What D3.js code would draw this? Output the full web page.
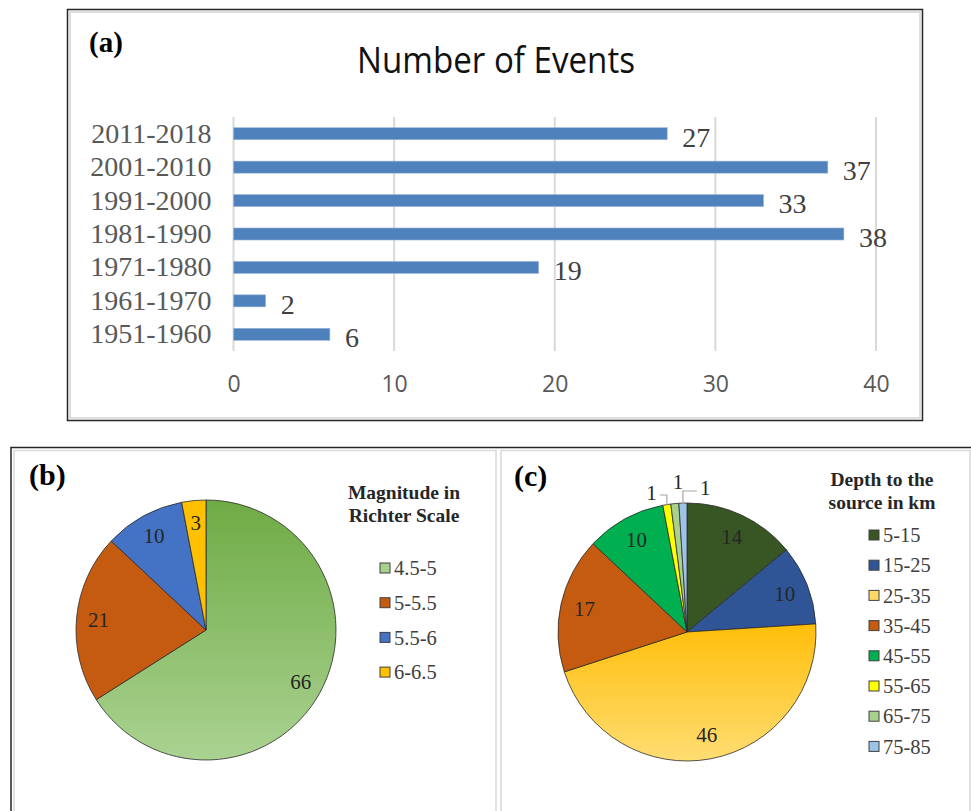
<!DOCTYPE html>
<html>
<head>
<meta charset="utf-8">
<script src="https://cdn.jsdelivr.net/npm/d3@7"></script>
<style>
  body { margin: 0; background: #fff; }
  svg { display: block; }
</style>
</head>
<body>
<div id="chart"></div>
<script>
// (a) number of events per decade
var decades = ["1951-1960", "1961-1970", "1971-1980", "1981-1990", "1991-2000", "2001-2010", "2011-2018"];
var events = [6, 2, 19, 38, 33, 37, 27];
var xTicks = [0, 10, 20, 30, 40];

// (b) magnitude
var magClasses = ["4.5-5", "5-5.5", "5.5-6", "6-6.5"];
var magCounts = [66, 21, 10, 3];

// (c) depth
var depthClasses = ["5-15", "15-25", "25-35", "35-45", "45-55", "55-65", "65-75", "75-85"];
var depthCounts = [14, 10, 46, 17, 10, 1, 1, 1];

var magColors = ["url(#gGreen)", "#C55A11", "#4472C4", "#FFC000"];
var magKeyColors = ["#A9D18E", "#C55A11", "#4472C4", "#FFC000"];
var depthColors = ["#375623", "#2F5597", "url(#gGold)", "#C55A11", "#00B050", "#FFFF00", "#A9D18E", "#9DC3E6"];
var depthKeyColors = ["#375623", "#2F5597", "#FFD966", "#C55A11", "#00B050", "#FFFF00", "#A9D18E", "#9DC3E6"];

var serif = "'Liberation Serif', 'Times New Roman', serif";

var svg = d3.select("#chart").append("svg")
    .attr("width", 971)
    .attr("height", 811);

var defs = svg.append("defs");
function grad(id, top, bottom) {
    var g = defs.append("linearGradient").attr("id", id)
        .attr("x1", 0).attr("y1", 0).attr("x2", 0).attr("y2", 1);
    g.append("stop").attr("offset", "0%").attr("stop-color", top);
    g.append("stop").attr("offset", "100%").attr("stop-color", bottom);
}
grad("gGreen", "#6EAB45", "#AAD291");
grad("gGold", "#FFBE0A", "#FFDD72");

// ---------- frames ----------
svg.append("rect").attr("x", 67.5).attr("y", 9.5).attr("width", 855).attr("height", 411)
    .attr("fill", "#fff").attr("stroke", "#262626").attr("stroke-width", 1.5);
svg.append("rect").attr("x", 70).attr("y", 12).attr("width", 850).attr("height", 406)
    .attr("fill", "none").attr("stroke", "#d4d4d4").attr("stroke-width", 1.5);

svg.append("rect").attr("x", 11).attr("y", 447.5).attr("width", 975).attr("height", 400)
    .attr("fill", "#fff").attr("stroke", "#262626").attr("stroke-width", 1.5);
svg.append("rect").attr("x", 14).attr("y", 450.5).attr("width", 482).attr("height", 390)
    .attr("fill", "none").attr("stroke", "#d9d9d9").attr("stroke-width", 1.5);
svg.append("rect").attr("x", 501).attr("y", 450.5).attr("width", 469).attr("height", 390)
    .attr("fill", "none").attr("stroke", "#d9d9d9").attr("stroke-width", 1.5);

// ---------- (a) bar chart ----------
var a = svg.append("g").attr("class", "g_bars");

a.append("text").text("(a)")
    .attr("x", 89).attr("y", 52)
    .style("font-family", serif).style("font-weight", "bold").style("font-size", "29px");

a.append("text").text("Number of Events")
    .attr("x", 496).attr("y", 73)
    .attr("text-anchor", "middle")
    .attr("textLength", 278).attr("lengthAdjust", "spacingAndGlyphs")
    .style("font-family", "'Open Sans', sans-serif").style("font-size", "37px").style("fill", "#111");

var x = d3.scaleLinear().domain([0, 40]).range([233.5, 876]);
var y = d3.scaleBand().domain(decades.slice().reverse()).range([117, 351])
    .paddingInner(0.64).paddingOuter(0.32);

a.selectAll("line.grid").data(xTicks).enter().append("line")
    .attr("class", "grid")
    .attr("x1", function (d) { return x(d); })
    .attr("x2", function (d) { return x(d); })
    .attr("y1", 117).attr("y2", 351)
    .attr("stroke", "#d9d9d9").attr("stroke-width", 2);

var xAxis = a.append("g").attr("transform", "translate(0,351)")
    .call(d3.axisBottom(x).tickValues(xTicks).tickSize(0).tickPadding(25));
xAxis.select(".domain").remove();
xAxis.selectAll("text")
    .style("font-family", "'Open Sans', sans-serif").style("font-size", "23px").style("fill", "#595959");

var yAxis = a.append("g").attr("transform", "translate(233.5,0)")
    .call(d3.axisLeft(y).tickSize(0).tickPadding(22));
yAxis.select(".domain").remove();
yAxis.selectAll("text")
    .style("font-family", serif).style("font-size", "28px").style("fill", "#595959");

var rows = decades.map(function (d, i) { return {decade: d, value: events[i]}; });

a.selectAll("rect.bar").data(rows).enter().append("rect")
    .attr("class", "bar")
    .attr("x", x(0))
    .attr("y", function (d) { return y(d.decade); })
    .attr("width", function (d) { return x(d.value) - x(0); })
    .attr("height", y.bandwidth())
    .attr("fill", "#4F81BD")
    .attr("stroke", "#9bb7dc").attr("stroke-width", 0.6);

a.selectAll("text.val").data(rows).enter().append("text")
    .attr("class", "val")
    .text(function (d) { return d.value; })
    .attr("x", function (d) { return x(d.value) + 15; })
    .attr("y", function (d) { return y(d.decade) + y.bandwidth() / 2 + 3; })
    .attr("dy", "0.35em")
    .style("font-family", serif).style("font-size", "28px").style("fill", "#404040");

// ---------- pie helper ----------
function drawPie(g, cx, cy, r, values, colors, labelR) {
    var pie = d3.pie().sort(null).value(function (d) { return d; });
    var arcs = pie(values);
    var arc = d3.arc().innerRadius(0).outerRadius(r);
    var labelArc = d3.arc().innerRadius(labelR).outerRadius(labelR);
    var pg = g.append("g").attr("transform", "translate(" + cx + "," + cy + ")");
    pg.selectAll("path").data(arcs).enter().append("path")
        .attr("d", arc)
        .attr("fill", function (d, i) { return colors[i]; })
        .attr("stroke", "#2b2b2b").attr("stroke-width", 0.8)
        .attr("stroke-linejoin", "round");
    pg.selectAll("text").data(arcs.filter(function (d) { return d.value > 1; })).enter().append("text")
        .text(function (d) { return d.value; })
        .attr("transform", function (d) { return "translate(" + labelArc.centroid(d) + ")"; })
        .attr("text-anchor", "middle").attr("dy", "0.35em")
        .style("font-family", serif).style("font-size", "21px").style("fill", "#262626");
    return {group: pg, arcs: arcs};
}

function drawLegend(g, x0, titleX, titleY, titleLines, classes, colors, firstY, step) {
    g.selectAll("text.ltitle").data(titleLines).enter().append("text")
        .attr("class", "ltitle")
        .text(function (d) { return d; })
        .attr("x", titleX).attr("y", function (d, i) { return titleY + i * 23; })
        .attr("text-anchor", "middle")
        .style("font-family", serif).style("font-weight", "bold").style("font-size", "19.5px").style("fill", "#262626");
    var item = g.selectAll("g.item").data(classes).enter().append("g")
        .attr("class", "item")
        .attr("transform", function (d, i) { return "translate(" + x0 + "," + (firstY + i * step) + ")"; });
    item.append("rect")
        .attr("x", 0).attr("y", -5).attr("width", 10).attr("height", 10)
        .attr("fill", function (d, i) { return colors[i]; })
        .attr("stroke", "#404040").attr("stroke-width", 1);
    item.append("text").text(function (d) { return d; })
        .attr("x", 14).attr("dy", "0.35em")
        .style("font-family", serif).style("font-size", "20.5px").style("fill", "#404040");
}

// ---------- (b) ----------
var b = svg.append("g").attr("class", "g_mag");
b.append("text").text("(b)")
    .attr("x", 29).attr("y", 485)
    .style("font-family", serif).style("font-weight", "bold").style("font-size", "30px");
drawPie(b, 206, 630, 130, magCounts, magColors, 108);
drawLegend(b, 380, 404, 499, ["Magnitude in", "Richter Scale"], magClasses, magKeyColors, 568, 34.7);

// ---------- (c) ----------
var c = svg.append("g").attr("class", "g_depth");
c.append("text").text("(c)")
    .attr("x", 514).attr("y", 486)
    .style("font-family", serif).style("font-weight", "bold").style("font-size", "30px");
var pc = drawPie(c, 687, 632, 129, depthCounts, depthColors, 105);
drawLegend(c, 869, 882, 486, ["Depth to the", "source in km"], depthClasses, depthKeyColors, 535, 30.2);

// small slices: labels outside with leader lines
var small = pc.arcs.filter(function (d) { return d.value <= 1; });
var r = 129;
small.forEach(function (d, k) {
    var ang = (d.startAngle + d.endAngle) / 2;
    var ex = r * Math.sin(ang), ey = -r * Math.cos(ang);
    var lx, ly, pts;
    if (k === 0) {
        pts = [[ex, ey + 1], [ex, -r - 8], [ex - 7, -r - 8]];
        lx = ex - 10; ly = -r - 10;
    } else if (k === 1) {
        pts = null;
        lx = ex + 3; ly = -r - 21;
    } else {
        pts = [[ex, ey + 1], [ex, -r - 12], [ex + 14, -r - 12]];
        lx = ex + 17; ly = -r - 15;
    }
    if (pts) {
        pc.group.append("polyline")
            .attr("points", pts.map(function (p) { return p.join(","); }).join(" "))
            .attr("fill", "none").attr("stroke", "#a6a6a6").attr("stroke-width", 1.2);
    }
    pc.group.append("text").text(d.value)
        .attr("x", lx).attr("y", ly)
        .attr("dy", "0.35em")
        .attr("text-anchor", k === 0 ? "end" : (k === 1 ? "middle" : "start"))
        .style("font-family", serif).style("font-size", "21px").style("fill", "#262626");
});
</script>
</body>
</html>
